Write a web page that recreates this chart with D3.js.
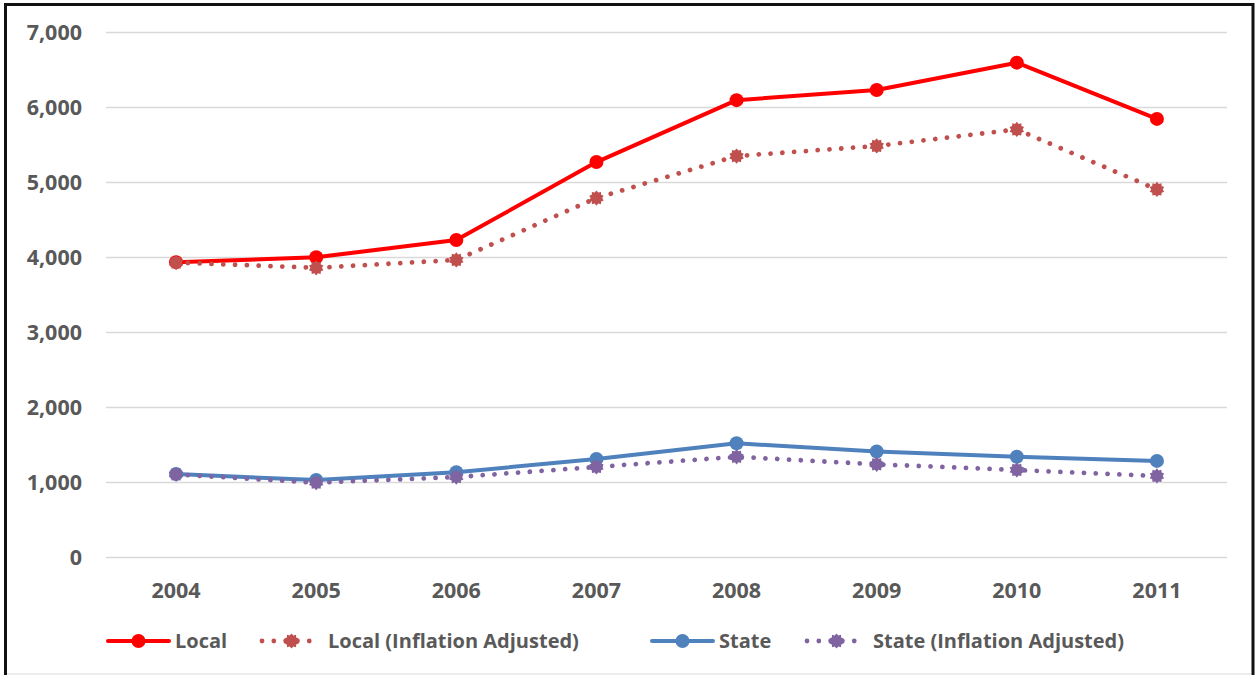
<!DOCTYPE html>
<html>
<head>
<meta charset="utf-8">
<script src="https://cdn.jsdelivr.net/npm/d3@7/dist/d3.min.js"></script>
<style>
  html, body { margin: 0; padding: 0; background: #fff; }
  svg { display: block; }
  text { font-family: "Open Sans", "DejaVu Sans", sans-serif; font-weight: 700; fill: #595959; }
</style>
</head>
<body>
<svg id="chart" width="1256" height="675"></svg>
<script>
const years = ["2004", "2005", "2006", "2007", "2008", "2009", "2010", "2011"];
const local = [3935, 4000, 4230, 5270, 6095, 6230, 6595, 5845];
const localAdj = [3930, 3860, 3965, 4790, 5350, 5485, 5705, 4905];
const state = [1110, 1030, 1135, 1310, 1520, 1410, 1340, 1285];
const stateAdj = [1105, 995, 1070, 1205, 1340, 1240, 1165, 1085];
const yTicks = [0, 1000, 2000, 3000, 4000, 5000, 6000, 7000];
const seriesNames = ["Local", "Local (Inflation Adjusted)", "State", "State (Inflation Adjusted)"];

const series = [
  { name: seriesNames[0], values: local, color: "#FF0000", dotted: false },
  { name: seriesNames[1], values: localAdj, color: "#C0504D", dotted: true },
  { name: seriesNames[2], values: state, color: "#4F81BD", dotted: false },
  { name: seriesNames[3], values: stateAdj, color: "#8064A2", dotted: true }
];

const svg = d3.select("#chart");
const W = 1256, H = 675;

// frame
svg.append("rect").attr("x", 0).attr("y", 0).attr("width", W).attr("height", H).attr("fill", "#fff");
svg.append("rect").attr("x", 5.5).attr("y", 4.5).attr("width", 1247.5).attr("height", 700)
  .attr("fill", "none").attr("stroke", "#111").attr("stroke-width", 3);
svg.append("line").attr("x1", 7).attr("x2", 1251).attr("y1", 674).attr("y2", 674)
  .attr("stroke", "#e6e6e6").attr("stroke-width", 1.5);

const plotL = 106, plotR = 1227, plotT = 32.3, plotB = 557.3;

const x = d3.scaleBand().domain(years).range([plotL, plotR]);
const y = d3.scaleLinear().domain([0, 7000]).range([plotB, plotT]);

// gridlines
svg.append("g").selectAll("line").data(yTicks).join("line")
  .attr("x1", plotL).attr("x2", plotR)
  .attr("y1", d => Math.round(y(d)) + 0.5).attr("y2", d => Math.round(y(d)) + 0.5)
  .attr("stroke", "#d9d9d9").attr("stroke-width", 1.3);

// y axis labels
const yAxis = d3.axisLeft(y).tickValues(yTicks).tickFormat(d3.format(",")).tickSize(0).tickPadding(0);
const gy = svg.append("g").attr("transform", "translate(82,0)").call(yAxis);
gy.select(".domain").remove();
gy.selectAll("text").attr("font-size", 21.5).attr("fill", "#595959")
  .style("font-family", "'Open Sans', sans-serif").style("font-weight", 700).attr("dy", "0.35em");

// x axis labels
const xAxis = d3.axisBottom(x).tickSize(0).tickPadding(0);
const gx = svg.append("g").attr("transform", "translate(0,590)").call(xAxis);
gx.select(".domain").remove();
gx.selectAll("text").attr("font-size", 21.5).attr("fill", "#595959")
  .style("font-family", "'Open Sans', sans-serif").style("font-weight", 700).attr("dy", "0.35em");

const cx = d => x(d) + x.bandwidth() / 2;

// star-like marker path
function starPath(r1, r2, n) {
  const pts = [];
  for (let i = 0; i < n * 2; i++) {
    const r = i % 2 === 0 ? r2 : r1;
    const a = Math.PI * i / n - Math.PI / 2;
    pts.push([r * Math.cos(a), r * Math.sin(a)]);
  }
  return "M" + pts.map(p => p[0].toFixed(2) + "," + p[1].toFixed(2)).join("L") + "Z";
}
const star = starPath(5.8, 7.6, 10);

const line = d3.line().x((d, i) => cx(years[i])).y(d => y(d));

function drawMarker(g, s, px, py) {
  if (s.dotted) {
    g.append("path").attr("d", star).attr("transform", `translate(${px},${py})`).attr("fill", s.color);
  } else {
    g.append("circle").attr("cx", px).attr("cy", py).attr("r", 7).attr("fill", s.color);
  }
}

series.forEach(s => {
  const g = svg.append("g");
  g.append("path").datum(s.values).attr("d", line).attr("fill", "none")
    .attr("stroke", s.color)
    .attr("stroke-width", s.dotted ? 4.8 : 4)
    .attr("stroke-linecap", "round").attr("stroke-linejoin", "round")
    .attr("stroke-dasharray", s.dotted ? "0.01 11.8" : null);
  s.values.forEach((v, i) => drawMarker(g, s, cx(years[i]), y(v)));
});

// legend
const legendY = 641;
const legendItems = [
  { x1: 108, x2: 169, tx: 175 },
  { x1: 262, x2: 321, tx: 328 },
  { x1: 652, x2: 713, tx: 719 },
  { x1: 807, x2: 866, tx: 873 }
];
series.forEach((s, i) => {
  const li = legendItems[i];
  const g = svg.append("g");
  g.append("line").attr("x1", li.x1).attr("x2", li.x2).attr("y1", legendY).attr("y2", legendY)
    .attr("stroke", s.color).attr("stroke-width", s.dotted ? 4.8 : 4)
    .attr("stroke-linecap", "round")
    .attr("stroke-dasharray", s.dotted ? "0.01 11.8" : null);
  drawMarker(g, s, (li.x1 + li.x2) / 2, legendY);
  g.append("text").attr("x", li.tx).attr("y", legendY).attr("dy", "0.35em")
    .attr("font-size", 20).text(s.name);
});
</script>
</body>
</html>
